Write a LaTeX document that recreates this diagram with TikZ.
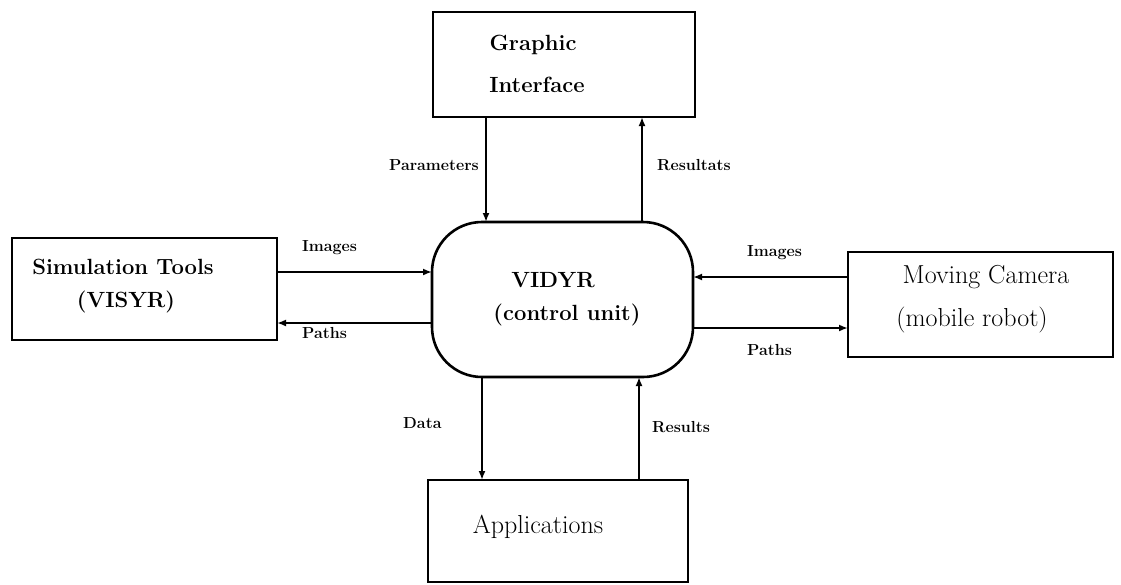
\documentclass[tikz,border=0pt]{standalone}
\usetikzlibrary{arrows.meta}
\begin{document}
\begin{tikzpicture}[x=1pt,y=-1pt,
  box/.style={draw,line width=2.6pt,inner sep=0pt,outer sep=0pt},
  arr/.style={line width=2pt,-{Latex[length=9pt,width=7pt]}},
  big/.style={font=\fontsize{22}{24}\selectfont\bfseries,inner sep=0pt},
  reg/.style={font=\fontsize{26}{28}\selectfont,inner sep=0pt},
  lab/.style={font=\fontsize{16}{18}\selectfont\bfseries,inner sep=0pt}]
\useasboundingbox (0,0) rectangle (1121,584);
% boxes
\node[box,minimum width=262pt,minimum height=105pt] (gi) at (564,64.5) {};
\node[box,minimum width=265pt,minimum height=102pt] (st) at (144.5,289) {};
\node[box,minimum width=265pt,minimum height=105pt] (mc) at (980.5,304.5) {};
\node[box,rounded corners=50pt,minimum width=261pt,minimum height=155pt] (cu) at (562.5,299.5) {};
\node[box,minimum width=260pt,minimum height=102pt] (ap) at (558,531) {};
% texts
\node[big] (t1) at (533,45) {Graphic};
\node[big] (t2) at (537,85) {Interface};
\node[big] (t3) at (123,267) {Simulation Tools};
\node[big] (t4) at (126,302) {(VISYR)};
\node[big] (t5) at (553,280) {VIDYR};
\node[big] (t6) at (567,315) {(control unit)};
\node[reg] (t7) at (986,277) {Moving Camera};
\node[reg] (t8) at (972,320) {(mobile robot)};
\node[reg] (t9) at (538,527) {Applications};
% connector positions
\coordinate (xP) at (486,0);
\coordinate (xR) at (642,0);
\coordinate (xD) at (482,0);
\coordinate (xS) at (639,0);
\coordinate (yLI) at (0,272);
\coordinate (yLP) at (0,323);
\coordinate (yRI) at (0,277);
\coordinate (yRP) at (0,328);
% connectors
\draw[arr] (xP |- gi.south) -- (xP |- cu.north);
\draw[arr] (xR |- cu.north) -- (xR |- gi.south);
\draw[arr] (st.east |- yLI) -- (cu.west |- yLI);
\draw[arr] (cu.west |- yLP) -- (st.east |- yLP);
\draw[arr] (mc.west |- yRI) -- (cu.east |- yRI);
\draw[arr] (cu.east |- yRP) -- (mc.west |- yRP);
\draw[arr] (xD |- cu.south) -- (xD |- ap.north);
\draw[arr] (xS |- ap.north) -- (xS |- cu.south);
% labels
\node[lab,anchor=east] (l1) at (479,165) {Parameters};
\node[lab,anchor=west] (l2) at (657,165) {Resultats};
\node[lab,anchor=west] (l3) at (302,248) {Images};
\node[lab,anchor=west] (l4) at (302,333) {Paths};
\node[lab,anchor=west] (l5) at (747,253) {Images};
\node[lab,anchor=west] (l6) at (747,350) {Paths};
\node[lab,anchor=west] (l7) at (403,423) {Data};
\node[lab,anchor=west] (l8) at (652,427) {Results};
\end{tikzpicture}
\end{document}
